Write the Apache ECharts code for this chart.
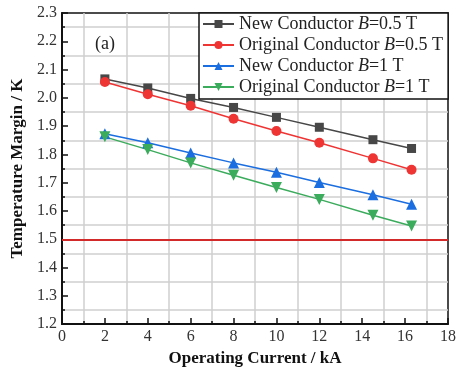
<!DOCTYPE html>
<html>
<head>
<meta charset="utf-8">
<script src="https://cdn.jsdelivr.net/npm/echarts@6/dist/echarts.min.js"></script>
<style>
html, body { margin: 0; padding: 0; background: #fff; }
#chart { width: 459px; height: 372px; }
</style>
</head>
<body>
<div id="chart"></div>
<script>
var current = [2, 4, 6, 8, 10, 12, 14.5, 16.3];
var newHalf = [2.067, 2.035, 1.998, 1.966, 1.931, 1.896, 1.852, 1.821];
var origHalf = [2.056, 2.013, 1.972, 1.926, 1.883, 1.841, 1.786, 1.746];
var newOne = [1.873, 1.841, 1.805, 1.770, 1.737, 1.701, 1.657, 1.624];
var origOne = [1.862, 1.817, 1.770, 1.726, 1.683, 1.641, 1.585, 1.547];
var threshold = 1.5;
var names = ['New Conductor B=0.5 T', 'Original Conductor B=0.5 T', 'New Conductor B=1 T', 'Original Conductor B=1 T'];
var legendText = {
	'New Conductor B=0.5 T': '{n|New Conductor }{i|B}{n|=0.5 T}',
	'Original Conductor B=0.5 T': '{n|Original Conductor }{i|B}{n|=0.5 T}',
	'New Conductor B=1 T': '{n|New Conductor }{i|B}{n|=1 T}',
	'Original Conductor B=1 T': '{n|Original Conductor }{i|B}{n|=1 T}'
};

var serif = '"Liberation Serif", "DejaVu Serif", serif';

function pairs(ys) {
	var out = [];
	for (var i = 0; i < current.length; i++) out.push([current[i], ys[i]]);
	return out;
}

function makeSeries(name, ys, color, symbol, size) {
	return {
		name: name,
		type: 'line',
		data: pairs(ys),
		symbol: symbol,
		symbolSize: size,
		itemStyle: { color: color },
		lineStyle: { color: color, width: 1.5 },
		z: 3
	};
}

var series = [
	makeSeries(names[0], newHalf, '#474747', 'rect', 9),
	makeSeries(names[1], origHalf, '#ef3434', 'circle', 10),
	makeSeries(names[2], newOne, '#1b6ee0', 'triangle', 11),
	makeSeries(names[3], origOne, '#3bab5c', 'path://M0,0 L10,0 L5,9 Z', 11)
];
// 临界温度裕度线
series[0].markLine = {
	silent: true,
	symbol: 'none',
	label: { show: false },
	lineStyle: { color: '#d22a2a', width: 2, type: 'solid' },
	data: [{ yAxis: threshold }]
};

var option = {
	animation: false,
	backgroundColor: '#fff',
	grid: {
		left: 62, right: 10, top: 13, bottom: 47,
		show: true, borderColor: '#111', borderWidth: 1.5, backgroundColor: 'transparent'
	},
	legend: {
		data: names,
		orient: 'vertical',
		left: 199, top: 13,
		padding: [2, 5, 3, 3],
		itemGap: 3,
		itemWidth: 31, itemHeight: 10,
		borderColor: '#111', borderWidth: 1.5,
		backgroundColor: '#fff',
		formatter: function(n) { return legendText[n]; },
		textStyle: {
			fontFamily: serif, fontSize: 18, color: '#222',
			rich: {
				n: { fontFamily: serif, fontSize: 18, color: '#222', lineHeight: 18 },
				i: { fontFamily: serif, fontSize: 18, color: '#222', fontStyle: 'italic', lineHeight: 18 }
			}
		}
	},
	graphic: [{
		type: 'text', left: 95, top: 35,
		style: { text: '(a)', font: '18px ' + serif, fill: '#222' }
	}],
	xAxis: {
		type: 'value', min: 0, max: 18, interval: 2,
		name: 'Operating Current / kA', nameLocation: 'middle', nameGap: 22,
		nameTextStyle: { fontFamily: serif, fontSize: 17, fontWeight: 'bold', color: '#111' },
		axisLine: { lineStyle: { color: '#111', width: 2 } },
		axisTick: { inside: true, length: 6, lineStyle: { color: '#111', width: 1.5 } },
		minorTick: { show: true, splitNumber: 2, length: 3, lineStyle: { color: '#111', width: 1.5 } },
		axisLabel: { fontFamily: serif, fontSize: 16, color: '#333', margin: 5 },
		splitLine: { show: false },
		minorSplitLine: { show: true, lineStyle: { color: '#d0d0d0', width: 1.5 } }
	},
	yAxis: {
		type: 'value', min: 1.2, max: 2.3, interval: 0.1,
		name: 'Temperature Margin / K', nameLocation: 'middle', nameGap: 30,
		nameTextStyle: { fontFamily: serif, fontSize: 17, fontWeight: 'bold', color: '#111' },
		axisLine: { show: true, lineStyle: { color: '#111', width: 2 } },
		axisTick: { show: true, inside: true, length: 6, lineStyle: { color: '#111', width: 1.5 } },
		minorTick: { show: true, splitNumber: 2, length: 3, lineStyle: { color: '#111', width: 1.5 } },
		axisLabel: {
			fontFamily: serif, fontSize: 16, color: '#333', margin: 5,
			formatter: function(v) { return v.toFixed(1); }
		},
		splitLine: { show: false },
		minorSplitLine: { show: true, lineStyle: { color: '#d0d0d0', width: 1.5 } }
	},
	series: series
};

echarts.init(document.getElementById('chart')).setOption(option);
</script>
</body>
</html>
